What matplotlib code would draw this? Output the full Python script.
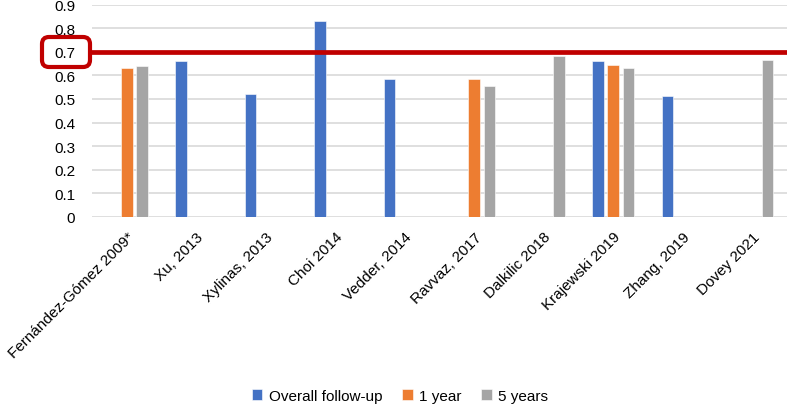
import matplotlib.pyplot as plt
import numpy as np
from matplotlib.patches import FancyBboxPatch
from matplotlib.transforms import IdentityTransform

plt.rcParams['font.family'] = ['Liberation Sans', 'DejaVu Sans']

# data
studies = ["Fernández-Gómez 2009*", "Xu, 2013", "Xylinas, 2013", "Choi 2014",
           "Vedder, 2014", "Ravvaz, 2017", "Dalkilic 2018", "Krajewski 2019",
           "Zhang, 2019", "Dovey 2021"]
overall = [np.nan, 0.659, 0.520, 0.832, 0.586, np.nan, np.nan, 0.659, 0.512, np.nan]
one_year = [0.632, np.nan, np.nan, np.nan, np.nan, 0.586, np.nan, 0.645, np.nan, np.nan]
five_years = [0.641, np.nan, np.nan, np.nan, np.nan, 0.556, 0.683, 0.629, np.nan, 0.666]
series_names = ["Overall follow-up", "1 year", "5 years"]
colors = ["#4472c4", "#ed7d31", "#a5a5a5"]
y_ticks = [0, 0.1, 0.2, 0.3, 0.4, 0.5, 0.6, 0.7, 0.8, 0.9]
y_labels = ["0", "0.1", "0.2", "0.3", "0.4", "0.5", "0.6", "0.7", "0.8", "0.9"]
threshold = 0.7

fig = plt.figure(figsize=(7.87, 4.06), dpi=100)
ax = fig.add_axes([92 / 787, 188 / 406, 695 / 787, 212.5 / 406])

x = np.arange(len(studies))
width = 0.17
offsets = [-0.22, 0, 0.22]
for vals, name, col, off in zip([overall, one_year, five_years], series_names, colors, offsets):
    ax.bar(x + off, vals, width, color=col, label=name, zorder=2,
           edgecolor="white", linewidth=0.4)

ax.axhline(threshold, color="#c00000", lw=3.4, zorder=3, clip_on=False)

ax.set_xlim(-0.5, len(studies) - 0.5)
ax.set_ylim(0, 0.9)
ax.set_yticks(y_ticks)
ax.set_yticklabels(y_labels, fontsize=11)
ax.set_xticks(x)
ax.set_xticklabels(studies, rotation=45, ha="right", va="top", rotation_mode="anchor",
                   fontsize=11)
ax.tick_params(length=0)
ax.tick_params(axis="y", pad=12)
ax.tick_params(axis="x", pad=9)
ax.grid(axis="y", color="#d9d9d9", lw=1.2, zorder=0)
for s in ax.spines.values():
    s.set_visible(False)

# red rounded box around the 0.7 label
box = FancyBboxPatch((42, 406 - 68), 48, 30, boxstyle="round,pad=0,rounding_size=7",
                     fill=False, ec="#c00000", lw=3, transform=IdentityTransform())
fig.add_artist(box)

fig.legend(loc="center", bbox_to_anchor=(0.508, 9 / 406), ncol=3, frameon=False,
           fontsize=11, handlelength=0.7, handleheight=0.7, handletextpad=0.4,
           columnspacing=1.3)

fig.savefig("out.png", dpi=100)
